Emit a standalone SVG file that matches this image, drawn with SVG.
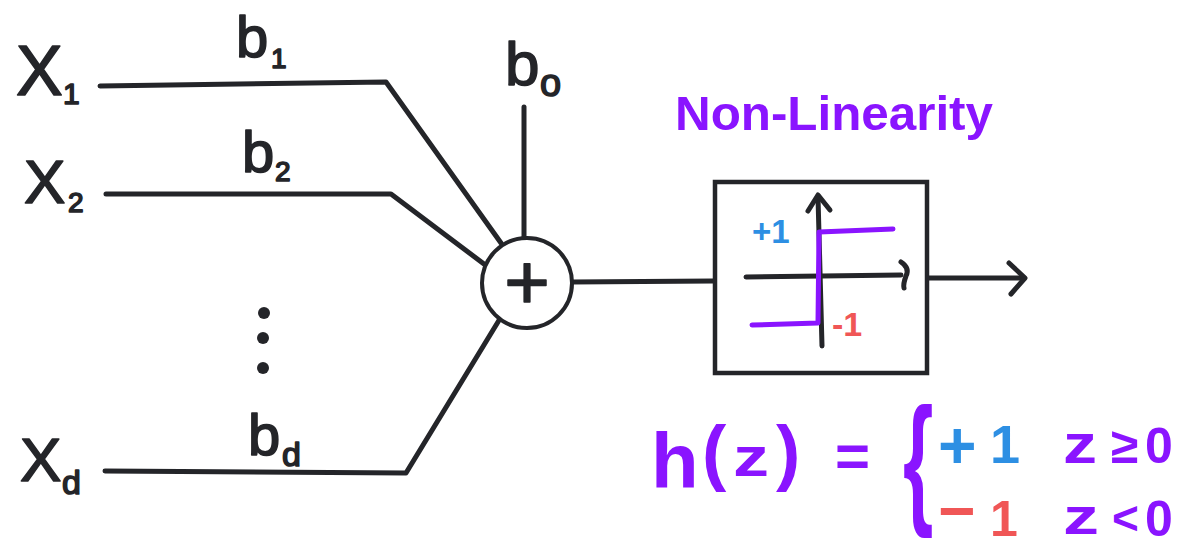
<svg xmlns="http://www.w3.org/2000/svg" width="1200" height="547" viewBox="0 0 1200 547">
<style>
.ink{stroke:#242529;stroke-width:5;fill:none;stroke-linecap:round;stroke-linejoin:round}
.t{font-family:"Liberation Sans",Arial,sans-serif;fill:#242529;stroke:#242529;stroke-width:1.6;stroke-linejoin:round}
.p{font-family:"Liberation Sans",Arial,sans-serif;fill:#8a14ff;font-weight:bold}
.blue{font-family:"Liberation Sans",Arial,sans-serif;fill:#2d8fe3;font-weight:bold}
.red{font-family:"Liberation Sans",Arial,sans-serif;fill:#f05656;font-weight:bold}
.step{stroke:#8a14ff;stroke-width:5;fill:none;stroke-linecap:round;stroke-linejoin:round}
</style>
<rect width="1200" height="547" fill="#ffffff"/>
<g id="connectors">
  <polyline class="ink" points="100,86 386,82 501,243" stroke-linecap="butt"/>
  <polyline class="ink" points="106,194 391,194 484,264" stroke-linecap="butt"/>
  <polyline class="ink" points="105,471 406,473 501,317" stroke-linecap="butt"/>
  <line class="ink" x1="524" y1="107" x2="524" y2="238" stroke-linecap="butt"/>
  <line class="ink" x1="572" y1="282" x2="713" y2="281" stroke-linecap="butt"/>
  <line class="ink" x1="929" y1="278" x2="1024" y2="278"/>
  <polyline class="ink" points="1009,263 1025,278 1011,294"/>
</g>
<g id="x1">
  <text class="t" x="16" y="95" font-size="70">X</text>
  <text class="t" x="63" y="104" font-size="30">1</text>
</g>
<g id="x2">
  <text class="t" x="24" y="203" font-size="62">X</text>
  <text class="t" x="68" y="212" font-size="28">2</text>
</g>
<g id="xd">
  <text class="t" x="20" y="481" font-size="62">X</text>
  <text class="t" x="62" y="494" font-size="34">d</text>
</g>
<g id="dots" fill="#242529">
  <circle cx="264" cy="313" r="6"/>
  <circle cx="263" cy="338" r="6"/>
  <circle cx="263" cy="368" r="6"/>
</g>
<g id="w1">
  <text class="t" x="236" y="57" font-size="58">b</text>
  <text class="t" x="271" y="68" font-size="28">1</text>
</g>
<g id="w2">
  <text class="t" x="242" y="172" font-size="58">b</text>
  <text class="t" x="275" y="181" font-size="28">2</text>
</g>
<g id="wd">
  <text class="t" x="248" y="455" font-size="58">b</text>
  <text class="t" x="282" y="466" font-size="34">d</text>
</g>
<g id="bias">
  <text class="t" x="505" y="85" font-size="62">b</text>
  <text class="t" x="540" y="96" font-size="38">o</text>
</g>
<g id="sum">
  <circle cx="527" cy="283" r="45" fill="#ffffff" stroke="#242529" stroke-width="4"/>
  <text class="t" x="527" y="309" font-size="78" text-anchor="middle">+</text>
</g>
<g id="nonlinearity-label">
  <text class="p" x="675" y="130" font-size="48" textLength="318" lengthAdjust="spacingAndGlyphs">Non-Linearity</text>
</g>
<g id="activation">
  <rect x="715" y="182" width="212" height="191" fill="#ffffff" stroke="#242529" stroke-width="4.5"/>
  <line class="ink" x1="818" y1="197" x2="822" y2="346"/>
  <polyline class="ink" points="808,211 818,195 830,210"/>
  <line class="ink" x1="746" y1="277" x2="901" y2="275"/>
  <path class="ink" d="M901,262 Q910,268 906,276 Q903,284 904,288"/>
  <polyline class="step" points="752,325 818,323 819,232 893,229"/>
  <text class="blue" x="752" y="243" font-size="33">+1</text>
  <text class="red" x="832" y="336" font-size="34">-1</text>
</g>
<g id="formula">
  <text class="p" x="651" y="488" font-size="78">h</text>
  <text class="p" x="702" y="477" font-size="73">(</text>
  <text class="p" x="733" y="476" font-size="55" textLength="36" lengthAdjust="spacingAndGlyphs">z</text>
  <text class="p" x="776" y="477" font-size="73">)</text>
  <text class="p" x="835" y="476" font-size="60">=</text>
  <text class="p" transform="translate(903,508) scale(0.55,1)" font-size="142">{</text>
  <text class="blue" x="938" y="468" font-size="66">+</text>
  <text class="blue" x="990" y="463" font-size="54">1</text>
  <text class="p" x="1063" y="463" font-size="55" textLength="34" lengthAdjust="spacingAndGlyphs">z</text>
  <text class="p" x="1111" y="463" font-size="50">≥</text>
  <text class="p" x="1145" y="463" font-size="50">0</text>
  <text class="red" x="938" y="533" font-size="64">−</text>
  <text class="red" x="990" y="536" font-size="50">1</text>
  <text class="p" x="1063" y="534" font-size="52" textLength="36" lengthAdjust="spacingAndGlyphs">z</text>
  <text class="p" x="1112" y="534" font-size="46">&lt;</text>
  <text class="p" x="1145" y="536" font-size="50">0</text>
</g>
</svg>
